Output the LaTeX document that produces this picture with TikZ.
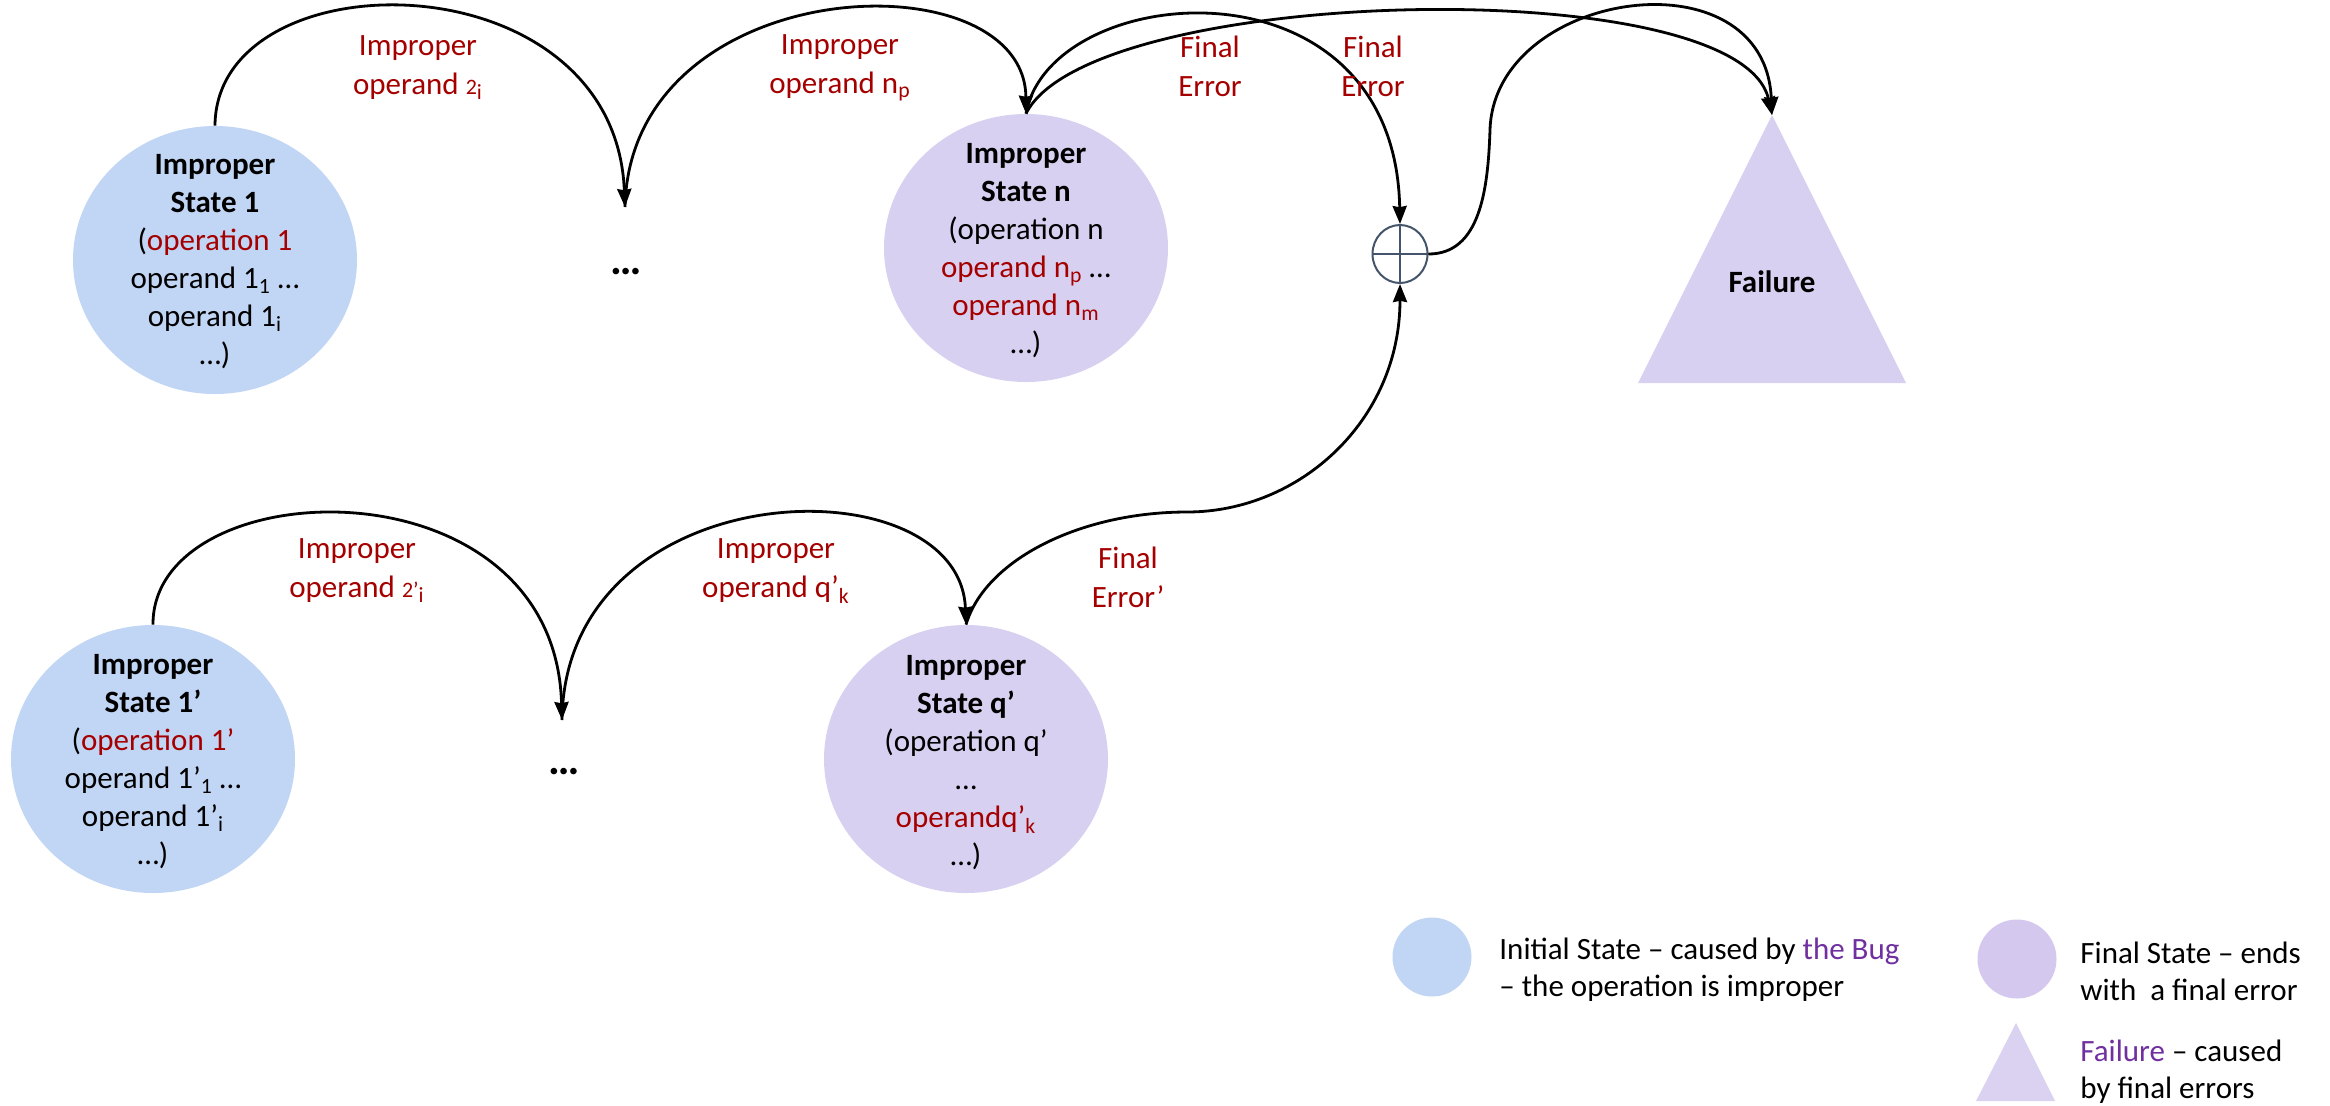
\documentclass[tikz,border=0pt]{standalone}
\usepackage{fontspec}
\setmainfont{Carlito}
\usetikzlibrary{arrows.meta,shapes.geometric}
\definecolor{stblue}{RGB}{193,213,244}
\definecolor{stpurple}{RGB}{216,208,240}
\definecolor{legpurple}{RGB}{212,200,238}
\definecolor{legtri}{RGB}{218,210,240}
\definecolor{errred}{RGB}{165,0,0}
\definecolor{bugpurple}{RGB}{112,48,160}
\definecolor{opline}{RGB}{68,84,106}
\newcommand{\smalltwo}[1]{{\fontsize{11}{11}\selectfont #1}}

\begin{document}
\begin{tikzpicture}[x=0.5pt,y=-0.5pt,
  stateshape/.style={ellipse, minimum width=142pt, minimum height=134pt, inner sep=0pt},
  initstate/.style={stateshape, fill=stblue},
  finalstate/.style={stateshape, fill=stpurple},
  statetext/.style={align=center, font=\fontsize{15.5}{19}\selectfont, inner sep=0pt},
  edgelabel/.style={align=center, text=errred, font=\fontsize{15.5}{19.5}\selectfont, inner sep=0pt},
  dotsnode/.style={font=\fontsize{22}{22}\selectfont\bfseries, inner sep=0pt},
  flow/.style={line width=1.4pt, -{Stealth[length=9pt,width=7pt,inset=0.6pt]}},
  legendtext/.style={align=left, anchor=west, font=\fontsize{15.5}{18.5}\selectfont, inner sep=0pt},
]
\useasboundingbox (0,0) rectangle (2330,1105);

% ---- states, upper chain ----
\node[initstate] (s1) at (215,260) {};
\node[statetext] (s1t) at (215,262) {\textbf{Improper}\\\textbf{State 1}\\(\textcolor{errred}{operation 1}\\operand 1\textsubscript{1} …\\operand 1\textsubscript{i}\\…)};

\node[dotsnode] (dots1) at (626,272) {…};
\coordinate (d1in) at (625,207);

\node[finalstate] (sn) at (1026,248) {};
\node[statetext] (snt) at (1026,251) {\textbf{Improper}\\\textbf{State n}\\(operation n\\\textcolor{errred}{operand n\textsubscript{p}} …\\\textcolor{errred}{operand n\textsubscript{m}}\\…)};

% ---- states, lower chain ----
\node[initstate] (s1p) at (153,759) {};
\node[statetext] (s1pt) at (153,762) {\textbf{Improper}\\\textbf{State 1’}\\(\textcolor{errred}{operation 1’}\\operand 1’\textsubscript{1} …\\operand 1’\textsubscript{i}\\…)};

\node[dotsnode] (dots2) at (564,772) {…};
\coordinate (d2in) at (562,720);

\node[finalstate] (q) at (966,759) {};
\node[statetext] (qt) at (966,763) {\textbf{Improper}\\\textbf{State q’}\\(operation q’\\…\\\textcolor{errred}{operandq’\textsubscript{k}}\\…)};

% ---- combination of errors ----
\node[ellipse, draw=opline, line width=1pt, minimum width=27.5pt, minimum height=29pt, inner sep=0pt] (op) at (1400,254) {};
\draw[opline, line width=1pt] (op.north) -- (op.south) (op.west) -- (op.east);

% ---- failure ----
\fill[stpurple] (1772,115) -- (1906,383) -- (1638,383) -- cycle;
\coordinate (apex) at (1772,115);
\node[font=\fontsize{15.5}{19}\selectfont\bfseries, inner sep=0pt] (fail) at (1772,282) {Failure};

% ---- transitions ----
\draw[flow] (s1.north) .. controls (216,-45) and (615,-45) .. (d1in);
\draw[flow] (d1in) .. controls (630,-30) and (1025,-45) .. (sn.north);
\draw[flow] (sn.north) .. controls (1050,-20) and (1395,-50) .. (op.north);
\draw[flow] (sn.north) .. controls (1090,-15) and (1740,-30) .. (apex);
\draw[flow] (op.east) .. controls (1480,254) and (1488,190) .. (1490,130)
            .. controls (1494,-10) and (1765,-50) .. (apex);
\draw[flow] (q.north) .. controls (985,560) and (1080,512) .. (1187,512)
            .. controls (1300,512) and (1400,420) .. (op.south);
\draw[flow] (s1p.north) .. controls (152,470) and (555,455) .. (d2in);
\draw[flow] (d2in) .. controls (565,470) and (960,460) .. (q.north);

% ---- transition labels ----
\node[edgelabel] (l1) at (418,68) {Improper\\operand \smalltwo{2}\textsubscript{i}};
\node[edgelabel] (l2) at (840,68) {Improper\\operand n\textsubscript{p}};
\node[edgelabel] (l3) at (1210,66) {Final\\Error};
\node[edgelabel] (l4) at (1373,66) {Final\\Error};
\node[edgelabel] (l5) at (1128,577) {Final\\Error’};
\node[edgelabel] (l6) at (357,571) {Improper\\operand \smalltwo{2’}\textsubscript{i}};
\node[edgelabel] (l7) at (776,571) {Improper\\operand q’\textsubscript{k}};

% ---- legend ----
\node[circle, fill=stblue, minimum size=39.5pt, inner sep=0pt] (legi) at (1432,957) {};
\node[legendtext] (legit) at (1499,970) {Initial State – caused by \textcolor{bugpurple}{the Bug}\\– the operation is improper};
\node[circle, fill=legpurple, minimum size=39.5pt, inner sep=0pt] (legf) at (2017,959) {};
\node[legendtext] (legft) at (2080,971) {Final State – ends\\with\ \ a final error};
\fill[legtri] (2016,1023) -- (2055,1101) -- (1976,1101) -- cycle;
\node[legendtext] (legxt) at (2080,1072) {\textcolor{bugpurple}{Failure} – caused\\by final errors};
\end{tikzpicture}
\end{document}
